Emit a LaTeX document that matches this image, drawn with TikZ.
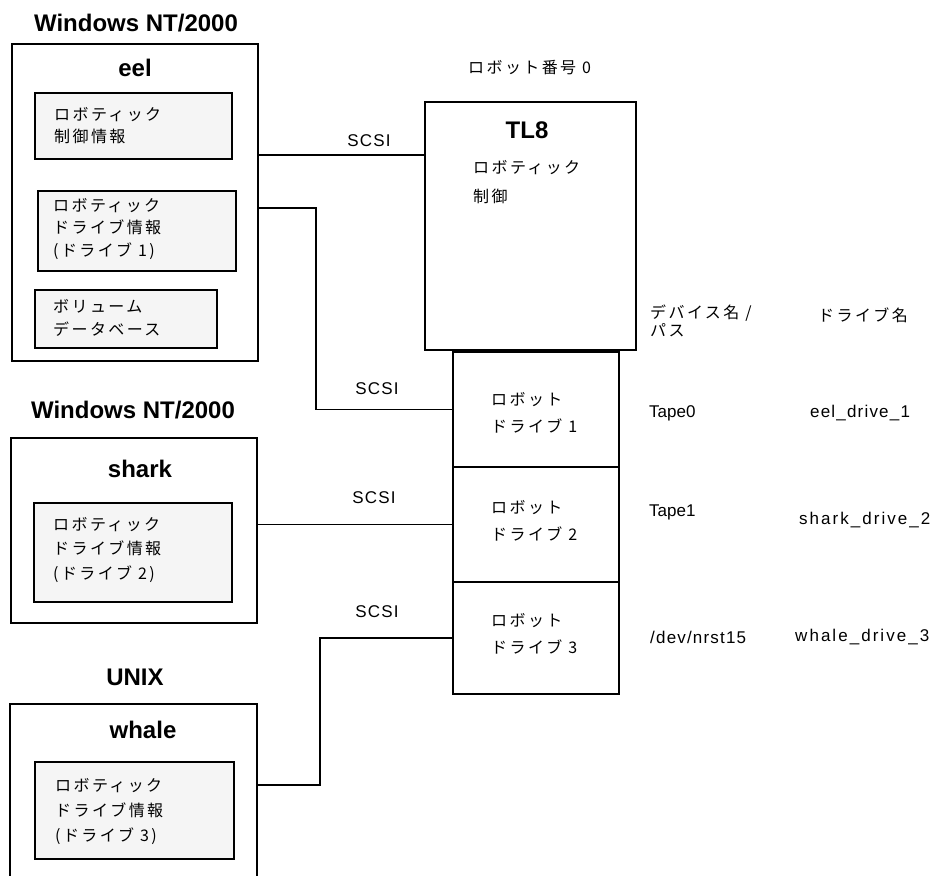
\documentclass[tikz,border=0pt]{standalone}
\usepackage{fontspec}
\setmainfont{Liberation Sans}
\newfontfamily\jp[LetterSpace=15]{Noto Sans CJK JP}
\newfontfamily\lspa[LetterSpace=7]{Liberation Sans}
\newfontfamily\lspb[LetterSpace=12]{Liberation Sans}
\usetikzlibrary{calc}
\definecolor{boxgray}{RGB}{245,245,245}
\begin{document}
\begin{tikzpicture}[x=1pt,y=-1pt,
  box/.style={draw, line width=1.8pt, rectangle, inner sep=0pt, anchor=north west},
  inbox/.style={box, fill=boxgray},
  title/.style={font=\bfseries\fontsize{24}{28}\selectfont, inner sep=0pt},
  lbl/.style={font=\fontsize{17}{20}\selectfont, inner sep=0pt, anchor=west},
  lbla/.style={font=\lspa\fontsize{17}{20}\selectfont, inner sep=0pt, anchor=west},
  lblb/.style={font=\lspb\fontsize{17}{20}\selectfont, inner sep=0pt, anchor=west},
  scsi/.style={font=\lspa\fontsize{17}{20}\selectfont, inner sep=0pt},
  jtxt/.style={font=\jp\fontsize{16}{#1}\selectfont, inner sep=0pt, anchor=west, align=left},
  jtxt/.default=22,
  wire/.style={line width=1.8pt}]
\useasboundingbox (0,0) rectangle (936,875);

% host boxes
\node[box, minimum width=246pt, minimum height=317pt] (eel) at (11,43) {};
\node[inbox, minimum width=197pt, minimum height=66pt] (e1) at (34,92) {};
\node[inbox, minimum width=198pt, minimum height=80pt] (e2) at (37,190) {};
\node[inbox, minimum width=182pt, minimum height=58pt] (e3) at (34,289) {};
\node[box, minimum width=246pt, minimum height=185pt] (shark) at (10,437) {};
\node[inbox, minimum width=198pt, minimum height=99pt] (s1) at (33,502) {};
\begin{scope}
\clip (0,0) rectangle (936,875);
\node[box, minimum width=247pt, minimum height=200pt] (whale) at (9,703) {};
\end{scope}
\node[inbox, minimum width=199pt, minimum height=97pt] (w1) at (34,761) {};

% library
\node[box, minimum width=211pt, minimum height=248pt] (tl8) at (424,101) {};
\node[box, minimum width=166pt, minimum height=115pt] (d1) at (452,351) {};
\node[box, minimum width=166pt, minimum height=115pt] (d2) at (452,466) {};
\node[box, minimum width=166pt, minimum height=112pt] (d3) at (452,581) {};

% connectors
\coordinate (ya) at (0,155);
\draw[wire] (eel.east |- ya) -- (tl8.west |- ya);
\coordinate (jb) at (316,208);
\draw[wire] (eel.east |- jb) -- (jb) |- (d1.west);
\draw[wire] (shark.east |- d2.west) -- (d2.west);
\coordinate (jd) at (320,785);
\draw[wire] (whale.east |- jd) -- (jd) |- (d3.west);

% titles
\node[title] (win1) at (136,23) {Windows NT/2000};
\node[title] (eeltxt) at (135,68) {eel};
\node[title] (win2) at (133,410) {Windows NT/2000};
\node[title] (sharktxt) at (140,469) {shark};
\node[title] (unix) at (135,677) {UNIX};
\node[title] (whaletxt) at (143,730) {whale};
\node[title] (tl8txt) at (527,130) {TL8};

% japanese texts
\node[jtxt] (robno) at (468,68) {ロボット番号 0};
\node[jtxt=22] (e1t) at (54,126) {ロボティック\\制御情報};
\node[jtxt=22.5] (e2t) at (53,229) {ロボティック\\ドライブ情報\\(ドライブ 1)};
\node[jtxt=23] (e3t) at (53,318) {ボリューム\\データベース};
\node[jtxt=24.5] (s1t) at (53,550) {ロボティック\\ドライブ情報\\(ドライブ 2)};
\node[jtxt=25] (w1t) at (55,812) {ロボティック\\ドライブ情報\\(ドライブ 3)};
\node[jtxt=29] (tl8t) at (473,182) {ロボティック\\制御};
\node[jtxt=27] (d1t) at (491,413) {ロボット\\ドライブ 1};
\node[jtxt=27] (d2t) at (491,521) {ロボット\\ドライブ 2};
\node[jtxt=27] (d3t) at (491,634) {ロボット\\ドライブ 3};
\node[jtxt=18] (devh) at (650,321) {デバイス名 /\\パス};
\node[jtxt] (drvh) at (818,315) {ドライブ名};

% SCSI labels
\node[scsi] (sc1) at (369,141) {SCSI};
\node[scsi] (sc2) at (377,389) {SCSI};
\node[scsi] (sc3) at (374,498) {SCSI};
\node[scsi] (sc4) at (377,612) {SCSI};

% device / drive names
\node[lbl] (dev1) at (649,413) {Tape0};
\node[lbla] (drv1) at (810,413) {eel\_drive\_1};
\node[lbl] (dev2) at (649,512) {Tape1};
\node[lblb] (drv2) at (799,520) {shark\_drive\_2};
\node[lbla] (dev3) at (650,637) {/dev/nrst15};
\node[lblb] (drv3) at (795,637) {whale\_drive\_3};
\end{tikzpicture}
\end{document}
